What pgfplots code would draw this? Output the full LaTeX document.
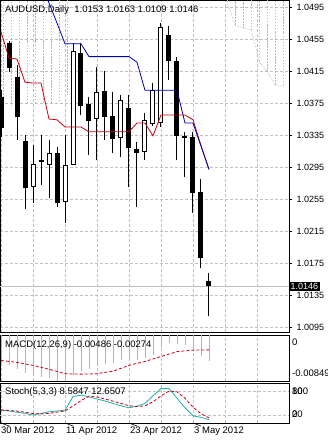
\documentclass[border=0pt]{standalone}
\usepackage{pgfplots}
\pgfplotsset{compat=1.18}
\usepackage{pgfplotstable}
\usepackage{fontspec}
\setmainfont{Liberation Sans}
\definecolor{gridc}{RGB}{192,192,192}
\definecolor{tenkan}{RGB}{200,0,20}
\definecolor{kijun}{RGB}{0,0,170}
\definecolor{sandy}{RGB}{240,165,115}
\definecolor{stochc}{RGB}{32,178,170}
\definecolor{histc}{RGB}{180,180,180}
\newcommand{\lbl}{\fontsize{9.5}{11}\selectfont}

\pgfplotstableread{
i O H L C
0 1.0383 1.0391 1.0333 1.0344
1 1.0450 1.0453 1.0414 1.0419
2 1.0408 1.0423 1.0329 1.0358
3 1.0328 1.0335 1.0243 1.0269
4 1.0270 1.0323 1.0250 1.0299
5 1.0304 1.0335 1.0273 1.0301
6 1.0298 1.0329 1.0256 1.0313
7 1.0313 1.0320 1.0245 1.0250
8 1.0251 1.0335 1.0225 1.0298
9 1.0298 1.0450 1.0297 1.0440
10 1.0438 1.0450 1.0360 1.0371
11 1.0374 1.0383 1.0310 1.0353
12 1.0355 1.0420 1.0304 1.0389
13 1.0390 1.0415 1.0329 1.0358
14 1.0359 1.0389 1.0313 1.0330
15 1.0331 1.0385 1.0308 1.0379
16 1.0369 1.0385 1.0270 1.0319
17 1.0318 1.0326 1.0245 1.0313
18 1.0314 1.0363 1.0304 1.0354
19 1.0349 1.0400 1.0346 1.0391
20 1.0350 1.0475 1.0345 1.0470
21 1.0460 1.0471 1.0404 1.0428
22 1.0428 1.0433 1.0304 1.0334
23 1.0334 1.0339 1.0283 1.0332
24 1.0333 1.0339 1.0238 1.0263
25 1.0264 1.0280 1.0169 1.0181
26 1.0153 1.0163 1.0109 1.0146
}\candles

\pgfplotstableread{
i T
0 1.0464
1 1.0431
2 1.0430
3 1.0401
4 1.0400
5 1.0400
6 1.0355
7 1.0354
8 1.0345
9 1.0345
10 1.0345
11 1.0339
12 1.0339
13 1.0339
14 1.0339
15 1.0339
16 1.0339
17 1.0350
18 1.0350
19 1.0334
20 1.0360
21 1.0360
22 1.0360
23 1.0360
24 1.0354
25 1.0322
26 1.0292
}\tenkan

\pgfplotstableread{
i K
5 1.0526
6 1.0500
7 1.0475
8 1.0449
9 1.0449
10 1.0449
11 1.0433
12 1.0433
13 1.0433
14 1.0433
15 1.0433
16 1.0433
17 1.0426
18 1.0391
19 1.0391
20 1.0391
21 1.0391
22 1.0391
23 1.0350
24 1.0350
25 1.0321
26 1.0292
}\kijun

\pgfplotstableread{
i A B
28.3 1.0530 1.0500
29.3 1.0530 1.0472
30.3 1.0530 1.0469
31.3 1.0530 1.0466
32.3 1.0530 1.0426
33.3 1.0530 1.0414
34.3 1.0530 1.0397
35.3 1.0530 1.0396
}\cloudR

\pgfplotstableread{
i A B
0.3 1.0530 1.0372
1.3 1.0530 1.0372
2.3 1.0530 1.0372
3.3 1.0530 1.0373
4.3 1.0530 1.0373
5.3 1.0530 1.0374
6.3 1.0530 1.0375
7.3 1.0530 1.0378
8.3 1.0530 1.0385
}\cloudL

\pgfplotstableread{
i M S
0 -0.00520 -0.00470
1 -0.00560 -0.00488
2 -0.00620 -0.00506
3 -0.00700 -0.00533
4 -0.00740 -0.00560
5 -0.00770 -0.00596
6 -0.00800 -0.00632
7 -0.00849 -0.00672
8 -0.00830 -0.00713
9 -0.00740 -0.00720
10 -0.00660 -0.00722
11 -0.00620 -0.00720
12 -0.00570 -0.00713
13 -0.00540 -0.00690
14 -0.00520 -0.00668
15 -0.00470 -0.00614
16 -0.00460 -0.00560
17 -0.00470 -0.00524
18 -0.00430 -0.00488
19 -0.00360 -0.00442
20 -0.00220 -0.00397
21 -0.00140 -0.00352
22 -0.00160 -0.00307
23 -0.00190 -0.00293
24 -0.00260 -0.00280
25 -0.00380 -0.00276
26 -0.00486 -0.00274
}\macd

\pgfplotstableread{
i K D
0 32 33
1 30 31
2 27 29.7
3 24 27
4 20 23.7
5 24 22.7
6 28 24
7 30 27.3
8 32 30
9 66 42.7
10 70 56
11 65 67
12 60 65
13 55 60
14 49 54.7
15 43 49
16 38 43.3
17 42 41
18 49 43
19 68 53
20 86 67.7
21 86 80
22 62 78
23 38 62
24 18 39.3
25 14 23.3
26 8.58 12.65
}\stoch

\pgfplotsset{
  mt4/.style={
    scale only axis, width=289pt, xmin=-0.125, xmax=36,
    axis line style={black, line width=0.8pt},
    xtick={0,4,8,12,16,20,24,28,32}, xticklabels={},
    xtick style={draw=none},
    xmajorgrids,
    grid style={gridc, dash pattern=on 3pt off 2pt, line width=0.6pt},
    clip mode=individual,
    tick label style={font=\fontsize{9}{10}\selectfont},
  },
  bars/.style={draw=none, mark=none, forget plot,
    error bars/.cd, y dir=both, y explicit, error mark=none},
}

\begin{document}
\begin{tikzpicture}
\path[use as bounding box] (0,0) rectangle (328pt,-440pt);
\fill[white] (0,0) rectangle (328pt,-440pt);

% ---------- main price panel ----------
\begin{axis}[mt4, at={(0pt,0pt)}, anchor=north west, height=332pt,
  ymin=1.008875, ymax=1.050375,
  ytick={1.0095,1.0135,1.0175,1.0215,1.0255,1.0295,1.0335,1.0375,1.0415,1.0455,1.0495},
  ymajorgrids, yticklabel pos=right, ytick pos=right,
  ytick style={black, line width=0.6pt}, tick align=outside, major tick length=3pt,
  yticklabel style={anchor=west, xshift=1pt, /pgf/number format/.cd, fixed, fixed zerofill, precision=4, assume math mode=true},
]
% cloud hatch
\addplot[bars, error bar style={sandy, dash pattern=on 1.5pt off 1.5pt, line width=0.7pt}]
  table[x=i, y expr={(\thisrow{A}+\thisrow{B})/2}, y error expr={abs(\thisrow{A}-\thisrow{B})/2}] {\cloudR};
\addplot[sandy!60!gray, line width=0.5pt, densely dotted, forget plot] table[x=i, y=B] {\cloudR};
\addplot[bars, error bar style={sandy, dash pattern=on 1.5pt off 1.5pt, line width=0.7pt}]
  table[x=i, y expr={(\thisrow{A}+\thisrow{B})/2}, y error expr={abs(\thisrow{A}-\thisrow{B})/2}] {\cloudL};
% current price line
\addplot[gridc, line width=0.7pt, forget plot] coordinates {(-1,1.0146) (40,1.0146)};
% wicks
\addplot[bars, error bar style={black, solid, line width=1pt}]
  table[x=i, y expr={(\thisrow{H}+\thisrow{L})/2}, y error expr={(\thisrow{H}-\thisrow{L})/2}] {\candles};
% bodies (black)
\addplot[bars, error bar style={black, solid, line width=5pt}]
  table[x=i, y expr={(\thisrow{O}+\thisrow{C})/2}, y error expr={max(abs(\thisrow{C}-\thisrow{O})/2,0.00007)}] {\candles};
% bullish inner (white)
\addplot[bars, error bar style={white, solid, line width=3pt}]
  table[x=i, y expr={(\thisrow{O}+\thisrow{C})/2}, y error expr={max((\thisrow{C}-\thisrow{O})/2-0.000125,0)}] {\candles};
% Ichimoku lines
\addplot[tenkan, line width=0.8pt] table[x=i, y=T] {\tenkan};
\addplot[kijun, line width=0.8pt] table[x=i, y=K] {\kijun};
\node[anchor=west, fill=black, text=white, inner sep=1.5pt, font=\fontsize{9}{10}\selectfont] at (axis cs:36,1.0146) {1.0146};
\end{axis}
\node[anchor=north west, font=\lbl, inner sep=0pt] at (5pt,-5pt) {AUDUSD,Daily\ \ 1.0153 1.0163 1.0109 1.0146};

% ---------- MACD panel ----------
\begin{axis}[mt4, at={(0pt,-335pt)}, anchor=north west, height=46pt,
  ymin=-0.00849, ymax=0, ytick=\empty]
\addplot[ycomb, histc, line width=0.8pt] table[x=i, y=M] {\macd};
\addplot[tenkan, line width=0.8pt, dash pattern=on 3pt off 2pt] table[x=i, y=S] {\macd};
\node[anchor=north west, font=\lbl, inner sep=0pt] at (rel axis cs:0,1) [xshift=5pt, yshift=-5pt] {MACD(12,26,9) -0.00486 -0.00274};
\node[anchor=west, font=\lbl, inner sep=0pt] at (rel axis cs:1,1) [xshift=3pt, yshift=-7pt] {0};
\node[anchor=west, font=\lbl, inner sep=0pt] at (rel axis cs:1,0) [xshift=3pt, yshift=8pt] {-0.00849};
\end{axis}

% ---------- Stochastic panel ----------
\begin{axis}[mt4, at={(0pt,-383pt)}, anchor=north west, height=40pt,
  ymin=0, ymax=100, ytick=\empty]
\addplot[gridc, line width=0.6pt, dash pattern=on 3pt off 2pt] coordinates {(-1,80) (40,80)};
\addplot[gridc, line width=0.6pt, dash pattern=on 3pt off 2pt] coordinates {(-1,20) (40,20)};
\addplot[stochc, line width=0.8pt] table[x=i, y=K] {\stoch};
\addplot[tenkan, line width=0.8pt, dash pattern=on 3pt off 2pt] table[x=i, y=D] {\stoch};
\node[anchor=north west, font=\lbl, inner sep=0pt] at (rel axis cs:0,1) [xshift=5pt, yshift=-4pt] {Stoch(5,3,3) 8.5847 12.6507};
\node[anchor=west, font=\lbl, inner sep=0pt] at (rel axis cs:1,1) [xshift=3pt, yshift=-8pt] {100};
\node[anchor=west, font=\lbl, inner sep=0pt] at (rel axis cs:1,1) [xshift=3pt, yshift=-8pt] {80};
\node[anchor=west, font=\lbl, inner sep=0pt] at (rel axis cs:1,0) [xshift=3pt, yshift=9pt] {20};
\node[anchor=west, font=\lbl, inner sep=0pt] at (rel axis cs:1,0) [xshift=3pt, yshift=9pt] {0};
\draw[black, line width=0.6pt] (axis cs:0,0) -- ++(0,-3pt);
\draw[black, line width=0.6pt] (axis cs:8,0) -- ++(0,-3pt);
\draw[black, line width=0.6pt] (axis cs:16,0) -- ++(0,-3pt);
\draw[black, line width=0.6pt] (axis cs:24,0) -- ++(0,-3pt);
\node[anchor=north west, font=\lbl, inner sep=0pt] at (axis cs:0,0) [yshift=-4pt] {30 Mar 2012};
\node[anchor=north west, font=\lbl, inner sep=0pt] at (axis cs:8,0) [xshift=1pt, yshift=-4pt] {11 Apr 2012};
\node[anchor=north west, font=\lbl, inner sep=0pt] at (axis cs:16,0) [xshift=1pt, yshift=-4pt] {23 Apr 2012};
\node[anchor=north west, font=\lbl, inner sep=0pt] at (axis cs:24,0) [xshift=1pt, yshift=-4pt] {3 May 2012};
\end{axis}
\end{tikzpicture}
\end{document}
